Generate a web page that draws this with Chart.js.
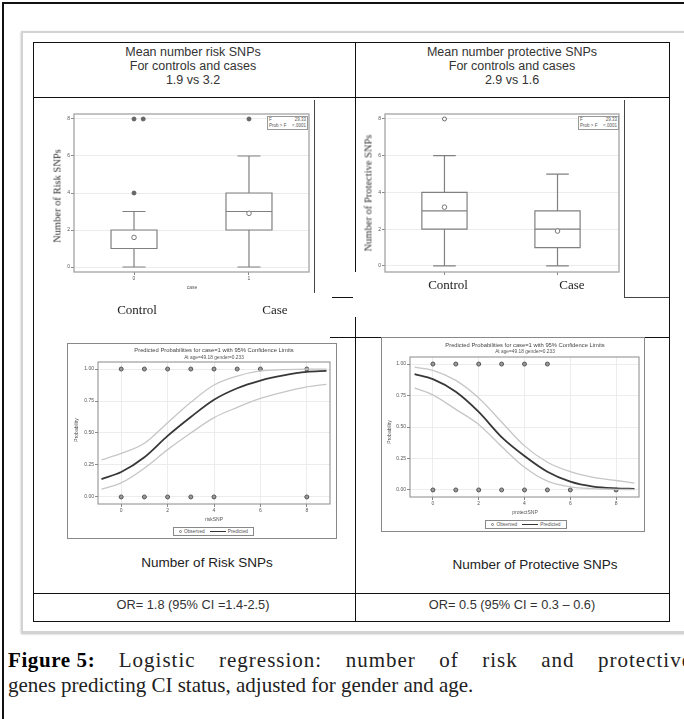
<!DOCTYPE html>
<html><head><meta charset="utf-8">
<script src="https://cdn.jsdelivr.net/npm/chart.js@4.4.0/dist/chart.umd.min.js"></script>
<style>
html,body{margin:0;padding:0;width:684px;height:719px;overflow:hidden;background:#fff;position:relative;font-family:"Liberation Sans",Arial,sans-serif;}
.a{position:absolute;}
.ln{position:absolute;background:#111;}
.t{position:absolute;white-space:nowrap;color:#222;}
.c{transform:translate(-50%,-50%);text-align:center;}
.r{transform:translate(-50%,-50%) rotate(-90deg);}
.serif{font-family:"Liberation Serif","Times New Roman",serif;}
canvas{position:absolute;}
.inset{position:absolute;border:1px solid #999;box-sizing:border-box;font-size:4.5px;line-height:5.5px;color:#555;padding:0 1px;background:#fff;}
.inset div{display:flex;justify-content:space-between;}
.leg{position:absolute;border:1px solid #888;box-sizing:border-box;display:flex;align-items:center;justify-content:center;gap:2px;font-size:4.8px;color:#555;background:#fff;}
.leg .o{width:3px;height:3px;border:1px solid #777;border-radius:50%;box-sizing:border-box;}
.leg .d{width:16px;height:1px;background:#333;margin-left:3px;}
.small{font-size:5px;color:#555;}
</style></head><body>

<!-- page frame -->
<div class="ln" style="left:2px;top:2px;width:682px;height:2px;"></div>
<div class="ln" style="left:2px;top:2px;width:2px;height:717px;"></div>
<div class="a" style="left:21px;top:31px;width:700px;height:598px;border:2px solid #d3d3d3;border-right:none;box-shadow:0 1px 2px #bbb;"></div>

<!-- table -->
<div class="a" style="left:33px;top:42px;width:637px;height:580px;border:1px solid #111;box-sizing:border-box;"></div>
<div class="ln" style="left:33px;top:97px;width:637px;height:1px;"></div>
<div class="ln" style="left:33px;top:593px;width:637px;height:1px;"></div>
<div class="ln" style="left:355px;top:42px;width:1px;height:230px;"></div>
<div class="ln" style="left:355px;top:317px;width:1px;height:305px;"></div>
<div class="ln" style="left:330px;top:337px;width:340px;height:1px;"></div>
<div class="ln" style="left:332px;top:297px;width:21px;height:1px;"></div>
<div class="ln" style="left:314px;top:100px;width:1px;height:193px;background:#444;"></div>
<div class="ln" style="left:624px;top:100px;width:1px;height:197px;background:#444;"></div>
<div class="ln" style="left:624px;top:297px;width:45px;height:1px;background:#444;"></div>

<!-- header texts -->
<div class="t c" style="left:193px;top:66px;font-size:12.5px;line-height:14px;color:#333;">Mean number risk SNPs<br>For controls and cases<br>1.9 vs 3.2</div>
<div class="t c" style="left:512px;top:66px;font-size:12.5px;line-height:14px;color:#333;">Mean number protective SNPs<br>For controls and cases<br>2.9 vs 1.6</div>

<!-- box plots -->
<canvas id="boxRisk" width="274" height="195" style="left:40px;top:100px;"></canvas>
<canvas id="boxProt" width="269" height="195" style="left:355px;top:100px;"></canvas>
<div class="t r serif" style="left:57px;top:196px;font-size:10.5px;color:#333;">Number of Risk SNPs</div>
<div class="t r serif" style="left:368px;top:193px;font-size:10.5px;color:#333;">Number of Protective SNPs</div>
<div class="inset" style="left:267px;top:116px;width:41px;height:14px;"><div><span>F</span><span>29.33</span></div><div><span>Prob &gt; F</span><span>&lt;.0001</span></div></div>
<div class="inset" style="left:578px;top:116px;width:41px;height:14px;"><div><span>F</span><span>29.33</span></div><div><span>Prob &gt; F</span><span>&lt;.0001</span></div></div>
<div class="t c small" style="left:192px;top:287px;">case</div>
<div class="t c serif" style="left:137px;top:310px;font-size:13px;">Control</div>
<div class="t c serif" style="left:275px;top:310px;font-size:13px;">Case</div>
<div class="t c serif" style="left:448px;top:285px;font-size:13px;">Control</div>
<div class="t c serif" style="left:572px;top:285px;font-size:13px;">Case</div>

<!-- logistic plots -->
<div class="a" style="left:67px;top:343px;width:270px;height:196px;border:1px solid #888;box-sizing:border-box;"></div>
<div class="a" style="left:381px;top:337px;width:264px;height:195px;border:1px solid #888;box-sizing:border-box;"></div>
<canvas id="logRisk" width="268" height="194" style="left:68px;top:344px;"></canvas>
<canvas id="logProt" width="262" height="193" style="left:382px;top:338px;"></canvas>
<div class="t c" style="left:214px;top:350px;font-size:5.8px;color:#444;">Predicted Probabilities for case=1 with 95% Confidence Limits</div>
<div class="t c" style="left:214px;top:356.5px;font-size:4.8px;color:#555;">At age=49.18 gender=0.233</div>
<div class="t c" style="left:525px;top:345px;font-size:5.8px;color:#444;">Predicted Probabilities for case=1 with 95% Confidence Limits</div>
<div class="t c" style="left:525px;top:351px;font-size:4.8px;color:#555;">At age=49.18 gender=0.233</div>
<div class="t r small" style="left:76px;top:430px;">Probability</div>
<div class="t r small" style="left:389px;top:432px;">Probability</div>
<div class="t c small" style="left:214px;top:519px;">riskSNP</div>
<div class="t c small" style="left:525px;top:512px;">protectSNP</div>
<div class="leg" style="left:173px;top:527px;width:81px;height:9px;"><span class="o"></span><span>Observed</span><span class="d"></span><span>Predicted</span></div>
<div class="leg" style="left:485px;top:520px;width:82px;height:9px;"><span class="o"></span><span>Observed</span><span class="d"></span><span>Predicted</span></div>

<div class="t c" style="left:207px;top:562px;font-size:13.5px;">Number of Risk SNPs</div>
<div class="t c" style="left:535px;top:564px;font-size:13.5px;">Number of Protective SNPs</div>

<div class="t c" style="left:193px;top:604px;font-size:12.8px;color:#333;">OR= 1.8 (95% CI =1.4-2.5)</div>
<div class="t c" style="left:512px;top:604px;font-size:12.8px;color:#333;">OR= 0.5 (95% CI = 0.3 – 0.6)</div>

<!-- caption -->
<div class="a serif" style="left:8px;top:648px;width:684px;font-size:21px;line-height:25px;letter-spacing:1px;color:#222;text-align:justify;text-align-last:justify;"><b style="color:#000;display:inline-block;letter-spacing:0.6px;">Figure 5:</b> Logistic regression: number of risk and protective</div>
<div class="a serif" style="left:8px;top:673px;font-size:21px;line-height:25px;color:#222;white-space:nowrap;">genes predicting CI status, adjusted for gender and age.</div>

<script>
// ---------- data ----------
const boxCategories = ['0', '1'];
const boxYTicks = [0, 2, 4, 6, 8];

// risk SNPs box plot (control, case)
const riskLow = [0, 0];
const riskQ1 = [1, 2];
const riskMedian = [1, 3];
const riskQ3 = [2, 4];
const riskHigh = [3, 6];
const riskMean = [1.6, 2.9];
const riskOutlierX = [0, 0, 0.08, 1];
const riskOutlierY = [4, 8, 8, 8];

// protective SNPs box plot (control, case)
const protLow = [0, 0];
const protQ1 = [2, 1];
const protMedian = [3, 2];
const protQ3 = [4, 3];
const protHigh = [6, 5];
const protMean = [3.2, 1.9];
const protOutlierX = [0];
const protOutlierY = [8];

// logistic curves
const probTicks = [0, 0.25, 0.5, 0.75, 1];
const snpTicks = [0, 2, 4, 6, 8];

const riskCurveX = [-0.85, 0, 1, 2, 3, 4, 5, 6, 7, 8, 8.85];
const riskPred  = [0.14, 0.195, 0.31, 0.477, 0.625, 0.76, 0.85, 0.91, 0.95, 0.977, 0.985];
const riskUpper = [0.29, 0.34, 0.42, 0.58, 0.74, 0.875, 0.945, 0.985, 0.995, 1.0, 1.0];
const riskLower = [0.06, 0.11, 0.225, 0.37, 0.5, 0.62, 0.70, 0.77, 0.82, 0.86, 0.88];
const riskObsCase = [0, 1, 2, 3, 4, 5, 6, 8];
const riskObsControl = [0, 1, 2, 3, 4, 8];

const protCurveX = [-0.8, 0, 1, 2, 3, 4, 5, 6, 7, 8, 8.8];
const protPred  = [0.92, 0.88, 0.78, 0.62, 0.42, 0.27, 0.145, 0.066, 0.027, 0.013, 0.009];
const protUpper = [0.975, 0.95, 0.87, 0.73, 0.54, 0.35, 0.22, 0.145, 0.10, 0.075, 0.055];
const protLower = [0.81, 0.755, 0.64, 0.52, 0.345, 0.18, 0.07, 0.025, 0.01, 0.005, 0.003];
const protObsCase = [0, 1, 2, 3, 4, 5];
const protObsControl = [0, 1, 2, 3, 4, 5, 6, 8];

// ---------- helpers ----------
Chart.defaults.font.family = '"Liberation Sans", Arial, sans-serif';
const BOX_W = 0.4;

function framePlugin(color, width) {
  return { id: 'frame', afterDatasetsDraw(chart) {
    const { ctx, chartArea: a } = chart;
    ctx.save(); ctx.strokeStyle = color; ctx.lineWidth = width;
    ctx.strokeRect(a.left, a.top, a.right - a.left, a.bottom - a.top);
    ctx.restore();
  }};
}

function boxPlugin(st) {
  return { id: 'boxes', beforeDatasetsDraw(chart) {
    const { ctx } = chart, xs = chart.scales.x, ys = chart.scales.y;
    ctx.save(); ctx.strokeStyle = '#808080'; ctx.lineWidth = 1.2;
    st.q1.forEach((q1, i) => {
      const cx = xs.getPixelForValue(i);
      const hw = xs.getPixelForValue(i + BOX_W / 2) - cx, cw = hw / 2;
      const yl = ys.getPixelForValue(st.low[i]), y1 = ys.getPixelForValue(q1);
      const ym = ys.getPixelForValue(st.med[i]), y3 = ys.getPixelForValue(st.q3[i]);
      const yh = ys.getPixelForValue(st.high[i]);
      ctx.beginPath();
      ctx.rect(cx - hw, y3, 2 * hw, y1 - y3);
      ctx.moveTo(cx - hw, ym); ctx.lineTo(cx + hw, ym);
      ctx.moveTo(cx, y3); ctx.lineTo(cx, yh);
      ctx.moveTo(cx - cw, yh); ctx.lineTo(cx + cw, yh);
      ctx.moveTo(cx, y1); ctx.lineTo(cx, yl);
      ctx.moveTo(cx - cw, yl); ctx.lineTo(cx + cw, yl);
      ctx.stroke();
    });
    ctx.restore();
  }};
}

function axes(g) {
  return {
    x: { type: 'linear', min: g.xmin, max: g.xmax,
      afterFit: s => { s.height = g.xH; },
      afterBuildTicks: s => { s.ticks = g.xTicks.map(v => ({ value: v })); },
      ticks: { font: { size: 5 }, color: '#555', padding: 1, callback: g.xLabel },
      grid: { color: '#ececec', drawOnChartArea: g.xGrid, tickLength: 3, tickColor: '#888' },
      border: { display: false } },
    y: { type: 'linear', min: g.ymin, max: g.ymax,
      afterFit: s => { s.width = g.yW; },
      afterBuildTicks: s => { s.ticks = g.yTicks.map(v => ({ value: v })); },
      ticks: { font: { size: 5 }, color: '#555', padding: 1, callback: g.yLabel },
      grid: { color: '#ececec', tickLength: 3, tickColor: '#888' },
      border: { display: false } }
  };
}

function baseOpts(g) {
  return {
    responsive: false, animation: false, events: [],
    layout: { padding: { top: g.pt, right: g.pr, left: 0, bottom: 0 } },
    plugins: { legend: { display: false }, tooltip: { enabled: false } },
    scales: axes(g)
  };
}

function boxChart(id, st, g) {
  new Chart(document.getElementById(id), {
    type: 'scatter',
    data: { datasets: [
      { data: st.mean.map((v, i) => ({ x: i, y: v })), pointRadius: 2.3, pointBorderColor: '#777', pointBackgroundColor: '#fff', pointBorderWidth: 1 },
      { data: st.outX.map((x, i) => ({ x: x, y: st.outY[i] })), pointRadius: 2, pointBorderColor: '#666', pointBackgroundColor: st.outFill, pointBorderWidth: 1 }
    ]},
    options: baseOpts(g),
    plugins: [boxPlugin(st), framePlugin('#a4a4a4', 1.3)]
  });
}

function logitChart(id, cx, pred, up, lo, obs1, obs0, g) {
  const line = (arr, color, w) => ({ data: cx.map((x, i) => ({ x: x, y: arr[i] })), showLine: true, pointRadius: 0,
    borderColor: color, borderWidth: w, cubicInterpolationMode: 'monotone', fill: false });
  new Chart(document.getElementById(id), {
    type: 'scatter',
    data: { datasets: [
      line(up, '#c6c6c6', 1.3),
      line(lo, '#c6c6c6', 1.3),
      line(pred, '#383838', 1.8),
      { data: obs1.map(x => ({ x: x, y: 1 })).concat(obs0.map(x => ({ x: x, y: 0 }))),
        pointRadius: 2, pointBorderColor: '#555', pointBackgroundColor: '#999', pointBorderWidth: 1 }
    ]},
    options: baseOpts(g),
    plugins: [framePlugin('#8a8a8a', 1)]
  });
}

const intLabel = v => String(v);

boxChart('boxRisk',
  { low: riskLow, q1: riskQ1, med: riskMedian, q3: riskQ3, high: riskHigh, mean: riskMean, outX: riskOutlierX, outY: riskOutlierY, outFill: '#666' },
  { xmin: -0.522, xmax: 1.522, ymin: -0.27, ymax: 8.27, xTicks: [0, 1], yTicks: boxYTicks,
    xLabel: v => boxCategories[v], yLabel: intLabel, xGrid: false, yW: 34, xH: 23, pt: 14, pr: 5 });

boxChart('boxProt',
  { low: protLow, q1: protQ1, med: protMedian, q3: protQ3, high: protHigh, mean: protMean, outX: protOutlierX, outY: protOutlierY, outFill: '#fff' },
  { xmin: -0.526, xmax: 1.544, ymin: -0.33, ymax: 8.27, xTicks: [0, 1], yTicks: boxYTicks,
    xLabel: () => '', yLabel: intLabel, xGrid: false, yW: 30, xH: 23, pt: 14, pr: 3 });

logitChart('logRisk', riskCurveX, riskPred, riskUpper, riskLower, riskObsCase, riskObsControl,
  { xmin: -1, xmax: 9, ymin: -0.055, ymax: 1.055, xTicks: snpTicks, yTicks: probTicks,
    xLabel: intLabel, yLabel: v => v.toFixed(2), xGrid: true, yW: 30, xH: 34, pt: 18, pr: 6 });

logitChart('logProt', protCurveX, protPred, protUpper, protLower, protObsCase, protObsControl,
  { xmin: -1, xmax: 9, ymin: -0.056, ymax: 1.056, xTicks: snpTicks, yTicks: probTicks,
    xLabel: intLabel, yLabel: v => v.toFixed(2), xGrid: true, yW: 28, xH: 34, pt: 19, pr: 3 });
</script>
</body></html>
